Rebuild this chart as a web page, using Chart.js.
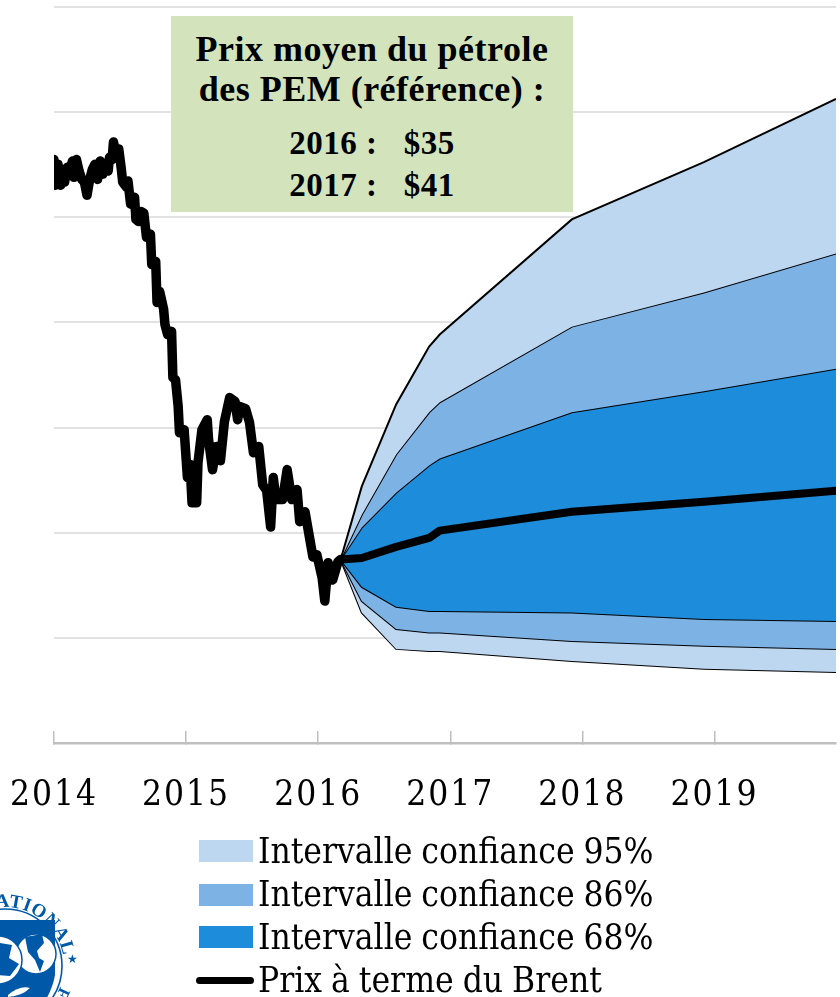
<!DOCTYPE html>
<html lang="fr">
<head>
<meta charset="utf-8">
<title>Prix du pétrole</title>
<script src="https://cdn.jsdelivr.net/npm/chart.js@4/dist/chart.umd.js"></script>
<style>
html,body{margin:0;padding:0;background:#fff;overflow:hidden}
#wrap{position:relative;width:840px;height:997px;overflow:hidden;font-family:"Liberation Serif",serif;color:#000}
#c{position:absolute;left:0;top:0}
#box{position:absolute;left:171px;top:16px;width:402px;height:196px;background:#D3E4BD;font-weight:bold;text-align:center}
#box div{position:absolute;left:0;width:100%;white-space:pre;letter-spacing:.5px}
.leg{position:absolute;left:258px;font-family:"DejaVu Serif Condensed","DejaVu Serif",serif;font-stretch:condensed;font-size:35px;line-height:40px;white-space:pre;word-spacing:-1px}
.sw{position:absolute;left:199px;width:54px;height:22px}
#ll{position:absolute;left:196px;top:977px;width:58px;height:7px;border-radius:4px;background:#000}
#logo{position:absolute;left:0;top:887px}
</style>
</head>
<body>
<div id="wrap">
<canvas id="c" width="840" height="997"></canvas>
<div id="box"></div>
<div id="legend"></div>
<svg id="logo" width="90" height="110" viewBox="0 887 90 110">
  <defs><path id="arcTop" d="M -54 966 A 59 59 0 0 1 64 966 A 59 59 0 0 1 5 1025"/></defs>
  <text font-family="Liberation Serif,serif" font-weight="bold" font-size="19" fill="#0058A8" letter-spacing=".6"><textPath href="#arcTop" startOffset="69">NATIONAL</textPath></text>
  <text font-family="Liberation Serif,serif" font-weight="bold" font-size="17" fill="#0058A8" letter-spacing="1"><textPath href="#arcTop" startOffset="206">FUND</textPath></text>
  <text x="67" y="963" font-size="12" fill="#0058A8" font-family="DejaVu Sans">★</text>
  <circle cx="5" cy="966" r="57" fill="none" stroke="#0058A8" stroke-width="1.6"/>
  <path d="M-5 920 H55 V975 Q52 992 42 1005 L-5 1005 Z" fill="#0058A8"/>
  <circle cx="36" cy="954" r="20" fill="#fff" stroke="#0058A8" stroke-width="1.5"/>
  <circle cx="-2" cy="960" r="24" fill="#fff" stroke="#0058A8" stroke-width="1.5"/>
  <path d="M25 937 L42 934 L44 943 L37 951 L39 958 L44 961 L40 972 L35 960 L28 952 Z" fill="#0058A8"/>
  <path d="M-5 942 L12 945 L9 958 L19 964 L10 976 L-5 975 Z" fill="#0058A8"/>
  <path d="M8 995 Q20 985 30 988 Q22 996 8 997 Z" fill="#fff"/>
</svg>
</div>
<script>
// Brent spot price history
const historyYears = [2014.00,2014.01,2014.03,2014.05,2014.06,2014.08,2014.10,2014.12,2014.14,2014.15,2014.17,2014.19,2014.21,2014.23,2014.25,2014.27,2014.29,2014.31,2014.33,2014.35,2014.37,2014.39,2014.41,2014.42,2014.44,2014.45,2014.48,2014.49,2014.51,2014.52,2014.55,2014.56,2014.58,2014.61,2014.62,2014.64,2014.66,2014.68,2014.70,2014.73,2014.74,2014.77,2014.78,2014.80,2014.83,2014.84,2014.86,2014.89,2014.90,2014.92,2014.94,2014.95,2014.985,2015.01,2015.03,2015.045,2015.08,2015.09,2015.12,2015.16,2015.17,2015.20,2015.23,2015.26,2015.29,2015.33,2015.37,2015.39,2015.41,2015.45,2015.48,2015.51,2015.55,2015.58,2015.61,2015.64,2015.66,2015.68,2015.73,2015.765,2015.80,2015.84,2015.86,2015.90,2015.96,2015.99,2016.03,2016.05,2016.075,2016.11,2016.15,2016.17];
const historyPrice = [111.0,106.1,110.1,106.1,109.1,106.7,109.5,108.8,110.7,107.6,111.0,108.8,107.2,106.7,104.2,107.2,109.1,110.1,107.2,110.7,108.2,110.1,108.8,111.4,111.0,114.3,111.4,113.0,109.1,106.7,105.7,106.9,102.5,103.8,99.6,99.2,101.1,100.8,96.2,96.8,91.0,91.6,83.8,85.9,82.5,79.6,77.7,78.3,69.5,69.1,64.0,59.0,59.6,50.5,53.0,45.7,45.7,53.3,59.6,61.5,57.7,52.0,56.4,53.7,61.1,65.7,65.0,61.5,64.0,63.6,61.0,55.2,56.4,49.1,48.0,41.1,50.5,46.3,46.3,52.0,46.3,48.2,42.1,44.0,35.4,35.8,31.4,27.0,34.3,31.0,34.5,34.9];

// Fan chart: futures curve and confidence bands
const fanYears = [2016.17,2016.33,2016.59,2016.84,2016.92,2017.92,2018.92,2019.92];
const brentFutures = [34.9,35.2,37.3,39.0,40.4,44.0,45.9,48.0];
const upper95 = [34.9,48.8,64.4,75.4,77.7,99.6,110.5,122.5];
const upper86 = [34.9,43.4,54.9,62.9,64.8,79.2,85.7,93.1];
const upper68 = [34.9,41.0,47.6,52.8,54.1,62.9,66.9,71.2];
const lower68 = [34.9,29.7,25.9,25.1,25.1,24.8,23.6,23.2];
const lower86 = [34.9,27.0,21.7,21.0,21.0,19.4,18.5,17.9];
const lower95 = [34.9,24.8,17.9,17.5,17.5,15.6,14.1,13.5];

const yearTicks = [2014,2015,2016,2017,2018,2019];
const legendNames = ["Intervalle confiance 95%","Intervalle confiance 86%","Intervalle confiance 68%","Prix à terme du Brent"];
const boxLines = ["Prix moyen du pétrole","des PEM (référence) :","2016 :   $35","2017 :   $41"];

const C95="#BDD7F1", C86="#7DB2E5", C68="#1D8CDA";
const pts=(xs,ys)=>xs.map((x,i)=>({x,y:ys[i]}));
const band=(label,ys,fillColor,target)=>({label,data:pts(fanYears,ys),borderColor:"#000",borderWidth:2,pointRadius:0,tension:0,
  fill:target===null?false:{target},backgroundColor:fillColor,order:2});

new Chart(document.getElementById("c"),{
  type:"line",
  data:{datasets:[
    band("u95",upper95,C95,1),
    band("u86",upper86,C86,2),
    band("u68",upper68,C68,3),
    band("l68",lower68,C86,4),
    band("l86",lower86,C95,5),
    band("l95",lower95,C95,null),
    {label:legendNames[3],data:pts(fanYears,brentFutures),borderColor:"#000",borderWidth:8,pointRadius:0,fill:false,order:1,borderJoinStyle:"round",borderCapStyle:"round"},
    {label:"Brent",data:pts(historyYears,historyPrice),borderColor:"#000",borderWidth:9.5,pointRadius:0,fill:false,order:0,borderJoinStyle:"round",borderCapStyle:"round"}
  ]},
  options:{
    responsive:false,animation:false,
    layout:{padding:{left:54,right:4,top:7,bottom:0}},
    plugins:{legend:{display:false},tooltip:{enabled:false}},
    scales:{
      x:{type:"linear",min:2014,max:2019.92,
        afterBuildTicks:s=>{s.ticks=yearTicks.map(v=>({value:v}));},
        afterFit:s=>{s.height=254;s.paddingLeft=0;s.paddingRight=0;},
        border:{color:"#BFBFBF",width:2.5},
        grid:{drawOnChartArea:false,drawTicks:true,tickLength:-12,color:"#BFBFBF",lineWidth:1.5,tickColor:"#BFBFBF",tickWidth:1.5},
        ticks:{autoSkip:false,maxRotation:0,padding:44,color:"#000",font:{family:"DejaVu Serif Condensed",size:35},callback:v=>String(v)}
      },
      y:{min:0,max:140,afterFit:s=>{s.width=0;},
        ticks:{display:false,stepSize:20},
        border:{display:false},
        grid:{color:"#E2E2E2",lineWidth:2,drawTicks:false}
      }
    }
  },
  plugins:[{id:"tickSpacing",beforeDraw(ch){ch.ctx.letterSpacing="2px";}}]
});

// annotation box and legend text
const box=document.getElementById("box");
const boxTops=[13,53,107,149], boxSizes=[36,36,33,33];
boxLines.forEach((t,i)=>{const d=document.createElement("div");d.textContent=t;d.style.top=boxTops[i]+"px";d.style.fontSize=boxSizes[i]+"px";d.style.lineHeight="40px";box.appendChild(d);});
const leg=document.getElementById("legend");
const swTops=[840,884,926], swCols=[C95,C86,C68], txtTops=[831,874,917,960];
legendNames.forEach((n,i)=>{
  const t=document.createElement("div");t.className="leg";t.textContent=n;t.style.top=txtTops[i]+"px";leg.appendChild(t);
  if(i<3){const s=document.createElement("div");s.className="sw";s.style.top=swTops[i]+"px";s.style.background=swCols[i];leg.appendChild(s);}
});
const l=document.createElement("div");l.id="ll";leg.appendChild(l);
</script>
</body>
</html>
